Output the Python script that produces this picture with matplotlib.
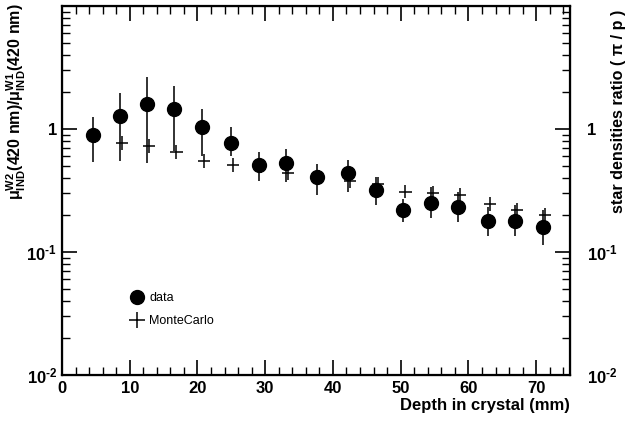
import numpy as np
import matplotlib
matplotlib.use("Agg")
import matplotlib.pyplot as plt
from matplotlib.ticker import FixedLocator, FixedFormatter, MultipleLocator, LogLocator, NullFormatter

plt.rcParams["font.family"] = ["Liberation Sans", "DejaVu Sans"]
plt.rcParams["mathtext.fontset"] = "custom"
plt.rcParams["mathtext.rm"] = "Liberation Sans:bold"
plt.rcParams["mathtext.bf"] = "Liberation Sans:bold"
plt.rcParams["mathtext.it"] = "Liberation Sans:bold"
plt.rcParams["mathtext.default"] = "bf"

# data points (depth in mm, ratio, lower / upper edge of error bar)
depth = [4.6, 8.6, 12.6, 16.6, 20.7, 25.0, 29.1, 33.1, 37.7, 42.2,
         46.3, 50.4, 54.5, 58.5, 62.9, 66.9, 71.0]
data_val = [0.89, 1.27, 1.60, 1.45, 1.03, 0.77, 0.51, 0.53, 0.41, 0.44,
            0.32, 0.22, 0.25, 0.23, 0.18, 0.18, 0.16]
data_lo = [0.54, 0.55, 0.53, 0.66, 0.60, 0.60, 0.38, 0.37, 0.29, 0.31,
           0.24, 0.175, 0.19, 0.175, 0.135, 0.135, 0.115]
data_hi = [1.25, 1.96, 2.65, 2.23, 1.45, 1.04, 0.65, 0.69, 0.52, 0.56,
           0.41, 0.27, 0.34, 0.31, 0.23, 0.24, 0.22]

# Monte Carlo
mc_depth = [4.9, 8.9, 12.9, 16.9, 21.0, 25.3, 29.4, 33.4, 38.0, 42.5,
            46.6, 50.7, 54.8, 58.8, 63.2, 67.2, 71.3]
mc_val = [0.88, 0.77, 0.73, 0.65, 0.55, 0.51, 0.50, 0.44, 0.41, 0.38,
          0.36, 0.31, 0.30, 0.29, 0.245, 0.22, 0.20]

ytick_vals = [1e-2, 1e-1, 1]
ytick_labels = ["10$^{\u20102}$", "10$^{\u20101}$", "1"]

fig = plt.figure(figsize=(6.3, 4.22), dpi=100)
ax = fig.add_axes([0.0984, 0.1114, 0.8064, 0.8744])

data_val = np.array(data_val)
yerr = [data_val - np.array(data_lo), np.array(data_hi) - data_val]
ax.errorbar(depth, data_val, yerr=yerr, fmt="none", ecolor="#222222",
            elinewidth=1.3, capsize=0, zorder=2)
ax.plot(depth, data_val, "o", color="black", markersize=10, zorder=4,
        label="data")

mc_val = np.array(mc_val)
ax.errorbar(mc_depth, mc_val, xerr=0.9, yerr=[mc_val * 0.12, mc_val * 0.14],
            fmt="none", ecolor="black", elinewidth=1.1, capsize=0, zorder=3)
ax.plot([], [], "+", color="black", markersize=11, markeredgewidth=1.1,
        label="MonteCarlo")

ax.set_xlim(0, 75)
ax.set_yscale("log")
ax.set_ylim(1e-2, 10)

ax.xaxis.set_major_locator(MultipleLocator(10))
ax.xaxis.set_minor_locator(MultipleLocator(2))
ax.yaxis.set_major_locator(FixedLocator(ytick_vals))
ax.yaxis.set_major_formatter(FixedFormatter(ytick_labels))
ax.yaxis.set_minor_locator(LogLocator(base=10, subs=np.arange(2, 10)))
ax.yaxis.set_minor_formatter(NullFormatter())

for lab in ax.get_xticklabels() + ax.get_yticklabels():
    lab.set_fontweight("bold")
ax.tick_params(axis="both", which="major", direction="in", length=11,
               width=1.2, labelsize=12, top=True, right=False)
ax.tick_params(axis="both", which="minor", direction="in", length=6,
               width=1.0, top=True, right=False)
ax.tick_params(axis="x", pad=4)
for s in ax.spines.values():
    s.set_linewidth(1.6)

ax.set_xlabel("Depth in crystal (mm)", fontsize=12, fontweight="bold",
              loc="right", labelpad=2)

ax2 = ax.twinx()
ax2.set_yscale("log")
ax2.set_ylim(1e-2, 10)
ax2.yaxis.set_major_locator(FixedLocator(ytick_vals))
ax2.yaxis.set_major_formatter(FixedFormatter(ytick_labels))
ax2.yaxis.set_minor_locator(LogLocator(base=10, subs=np.arange(2, 10)))
ax2.yaxis.set_minor_formatter(NullFormatter())
ax2.tick_params(axis="y", which="major", direction="in", length=11,
                width=1.2, labelsize=12, pad=12)
ax2.tick_params(axis="y", which="minor", direction="in", length=6, width=1.0)
for lab in ax2.get_yticklabels():
    lab.set_fontweight("bold")

# axis titles placed like the original (starting at the very top)
fig.text(16 / 630, 1 - 3 / 422,
         r"$\mathregular{\mu}^{W2}_{IND}$(420 nm)/$\mathregular{\mu}^{W1}_{IND}$(420 nm)",
         rotation=90, ha="center", va="top", fontsize=11.5, fontweight="bold")
fig.text(619 / 630, 1 - 10 / 422, "star densities ratio ( π / p )",
         rotation=90, ha="center", va="top", fontsize=11.6, fontweight="bold")

leg = ax.legend(loc="upper left", bbox_to_anchor=(0.11, 0.255), frameon=False,
                fontsize=9, handletextpad=0.4, labelspacing=0.9,
                handlelength=1.2)

fig.savefig("out.png", dpi=100)
